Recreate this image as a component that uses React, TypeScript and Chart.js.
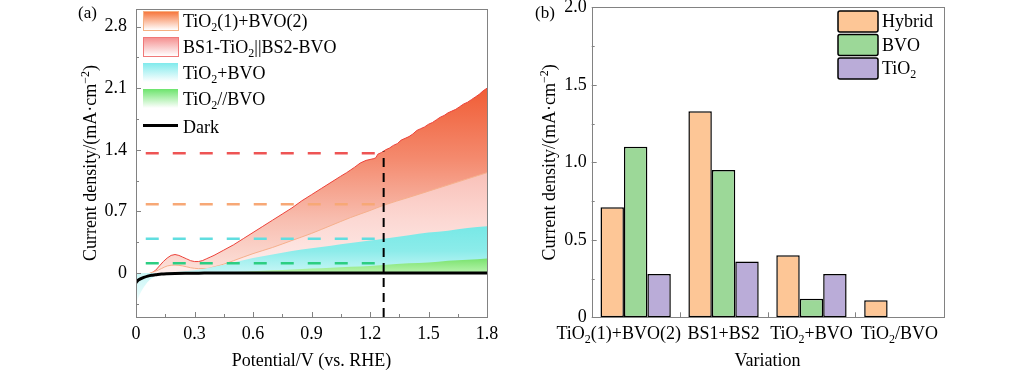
import React, { useEffect, useRef } from 'react';
import Chart from 'chart.js/auto';

const FONT = '"Liberation Serif", "Times New Roman", serif';

// ---------- Panel (a) data ----------
const potentialTicks = [0, 0.3, 0.6, 0.9, 1.2, 1.5, 1.8];
const potentialTickLabels = ['0', '0.3', '0.6', '0.9', '1.2', '1.5', '1.8'];
const potentialMinorTicks = [0.15, 0.45, 0.75, 1.05, 1.35, 1.65];
const currentTicksA = [0, 0.7, 1.4, 2.1, 2.8];
const currentTickLabelsA = ['0', '0.7', '1.4', '2.1', '2.8'];
const currentMinorTicksA = [-0.35, 0.35, 1.05, 1.75, 2.45];

// BS1-TiO2||BS2-BVO (red)
const bsX = [0.08, 0.10, 0.12, 0.14, 0.16, 0.18, 0.20, 0.22, 0.24, 0.26, 0.28, 0.30, 0.32, 0.34, 0.36, 0.38, 0.40,
  0.45, 0.50, 0.55, 0.60, 0.65, 0.70, 0.75, 0.80, 0.85, 0.90, 0.95, 1.00, 1.05,
  1.08, 1.10, 1.12, 1.15, 1.18, 1.20, 1.22, 1.23, 1.24,
  1.26, 1.28, 1.30, 1.32, 1.34, 1.36, 1.38, 1.40, 1.42, 1.44, 1.46, 1.48, 1.50, 1.52, 1.54, 1.56, 1.58, 1.60, 1.62, 1.64, 1.66, 1.68, 1.70, 1.72, 1.74, 1.76, 1.78, 1.80];
const bsY = [0.00, 0.03, 0.08, 0.13, 0.17, 0.20, 0.21, 0.20, 0.18, 0.16, 0.14, 0.13, 0.13, 0.14, 0.16, 0.18, 0.20,
  0.26, 0.32, 0.39, 0.46, 0.53, 0.60, 0.67, 0.74, 0.82, 0.89, 0.96, 1.03, 1.10,
  1.14, 1.17, 1.20, 1.25, 1.28, 1.29, 1.30, 1.31, 1.35,
  1.37, 1.40, 1.42, 1.45, 1.47, 1.51, 1.53, 1.55, 1.58, 1.62, 1.64, 1.66, 1.69, 1.71, 1.74, 1.77, 1.79, 1.82, 1.84, 1.86, 1.89, 1.92, 1.94, 1.97, 2.00, 2.03, 2.07, 2.10];

// TiO2(1)+BVO(2) (orange)
const hybX = [0.07, 0.10, 0.13, 0.16, 0.20, 0.24, 0.28, 0.32, 0.36, 0.40, 0.45, 0.50, 0.60, 0.70, 0.80, 0.90, 1.00, 1.10, 1.20, 1.27, 1.40, 1.50, 1.60, 1.70, 1.80];
const hybY = [0.00, 0.02, 0.05, 0.08, 0.09, 0.08, 0.06, 0.05, 0.05, 0.07, 0.10, 0.14, 0.22, 0.29, 0.37, 0.45, 0.54, 0.63, 0.71, 0.77, 0.86, 0.93, 1.00, 1.07, 1.14];

// TiO2+BVO (cyan)
const sumX = [0, 0.02, 0.05, 0.08, 0.10, 0.15, 0.20, 0.30, 0.40, 0.50, 0.60, 0.70, 0.80, 0.90, 1.00, 1.10, 1.20, 1.27, 1.40, 1.50, 1.60, 1.70, 1.80];
const sumY = [-0.35, -0.24, -0.13, -0.06, -0.03, 0.00, 0.01, 0.03, 0.07, 0.12, 0.17, 0.21, 0.25, 0.28, 0.31, 0.34, 0.37, 0.39, 0.43, 0.46, 0.48, 0.51, 0.53];

// TiO2//BVO (green)
const parX = [0.30, 0.40, 0.50, 0.60, 0.70, 0.80, 0.90, 1.00, 1.10, 1.20, 1.27, 1.40, 1.50, 1.60, 1.70, 1.80];
const parY = [0.00, 0.005, 0.01, 0.02, 0.03, 0.04, 0.05, 0.06, 0.07, 0.08, 0.09, 0.11, 0.12, 0.14, 0.15, 0.165];

// Dark
const darkX = [0, 0.01, 0.02, 0.04, 0.06, 0.08, 0.10, 0.13, 0.16, 0.20, 0.30, 0.35, 1.80];
const darkY = [-0.11, -0.085, -0.07, -0.05, -0.035, -0.025, -0.02, -0.012, -0.008, -0.005, -0.003, 0, 0];

const refLevels = [1.36, 0.78, 0.39, 0.11];
const refStart = 0.05;
const refEnd = 1.27;
const markerPotential = 1.27;

const legendA = ['TiO_{2}(1)+BVO(2)', 'BS1-TiO_{2}||BS2-BVO', 'TiO_{2}+BVO', 'TiO_{2}//BVO', 'Dark'];
const xTitleA = 'Potential/V (vs. RHE)';
const yTitle = 'Current density/(mA·cm^{−2})';

// ---------- Panel (b) data ----------
const categories = ['TiO_{2}(1)+BVO(2)', 'BS1+BS2', 'TiO_{2}+BVO', 'TiO_{2}/BVO'];
const hybridValues = [0.71, 1.33, 0.40, 0.11];
const bvoValues = [1.10, 0.95, 0.12, null];
const tio2Values = [0.28, 0.36, 0.28, null];
const seriesB = ['Hybrid', 'BVO', 'TiO_{2}'];
const currentTicksB = [0, 0.5, 1, 1.5, 2];
const currentTickLabelsB = ['0', '0.5', '1.0', '1.5', '2.0'];
const currentMinorTicksB = [0.25, 0.75, 1.25, 1.75];
const xTitleB = 'Variation';

// ---------- styles ----------
const FRAME = 'rgb(130,130,130)';
const barColors = ['rgb(253,198,150)', 'rgb(156,216,152)', 'rgb(186,172,216)'];
const refColors = ['rgb(238,84,84)', 'rgb(247,168,118)', 'rgb(96,222,224)', 'rgb(44,206,130)'];
const catLabelShift = [-17, 0, 0, 0];

type Seg = { t: string; k: number };
function parseRich(s: string): Seg[] {
  const out: Seg[] = [];
  let i = 0;
  let buf = '';
  while (i < s.length) {
    if ((s[i] === '_' || s[i] === '^') && s[i + 1] === '{') {
      if (buf) { out.push({ t: buf, k: 0 }); buf = ''; }
      const end = s.indexOf('}', i);
      out.push({ t: s.slice(i + 2, end), k: s[i] === '_' ? 1 : 2 });
      i = end + 1;
    } else {
      buf += s[i];
      i++;
    }
  }
  if (buf) out.push({ t: buf, k: 0 });
  return out;
}

function drawRich(ctx: CanvasRenderingContext2D, s: string, x: number, y: number, size: number, align: string) {
  const segs = parseRich(s);
  const small = Math.round(size * 0.64);
  let w = 0;
  for (const sg of segs) {
    ctx.font = `${sg.k ? small : size}px ${FONT}`;
    w += ctx.measureText(sg.t).width;
  }
  let cx = align === 'center' ? x - w / 2 : align === 'right' ? x - w : x;
  ctx.textAlign = 'left';
  ctx.textBaseline = 'alphabetic';
  const base = y + size * 0.33;
  for (const sg of segs) {
    ctx.font = `${sg.k ? small : size}px ${FONT}`;
    const dy = sg.k === 1 ? size * 0.22 : sg.k === 2 ? -size * 0.38 : 0;
    ctx.fillText(sg.t, cx, base + dy);
    cx += ctx.measureText(sg.t).width;
  }
}

function vGrad(stops: [number, string][]) {
  return (c: any) => {
    const chart = c.chart;
    const ys = chart.scales && chart.scales.y;
    if (!chart.chartArea || !ys) return stops[0][1];
    const y0 = ys.getPixelForValue(stops[0][0]);
    const y1 = ys.getPixelForValue(stops[stops.length - 1][0]);
    const g = chart.ctx.createLinearGradient(0, y0, 0, y1);
    for (const [v, col] of stops) {
      const f = (ys.getPixelForValue(v) - y0) / (y1 - y0);
      g.addColorStop(Math.min(1, Math.max(0, f)), col);
    }
    return g;
  };
}

const pts = (xs: number[], ys: number[]) => xs.map((x, i) => ({ x, y: ys[i] }));

function fixY(width: number) {
  return (s: any) => { s.width = width; s.paddingTop = 0; s.paddingBottom = 0; };
}
function fixX(height: number) {
  return (s: any) => { s.height = height; s.paddingLeft = 0; s.paddingRight = 0; };
}

const panelAPlugin = {
  id: 'panelA',
  afterDraw(chart: any) {
    const ctx: CanvasRenderingContext2D = chart.ctx;
    const { left, right, top, bottom } = chart.chartArea;
    const xs = chart.scales.x;
    const ys = chart.scales.y;
    ctx.save();
    ctx.strokeStyle = FRAME;
    ctx.lineWidth = 1;
    ctx.strokeRect(Math.round(left) + 0.5, Math.round(top) + 0.5, Math.round(right - left), Math.round(bottom - top));
    ctx.beginPath();
    for (const v of currentTicksA) { const p = Math.round(ys.getPixelForValue(v)) + 0.5; ctx.moveTo(left, p); ctx.lineTo(left + 5, p); }
    for (const v of currentMinorTicksA) { const p = Math.round(ys.getPixelForValue(v)) + 0.5; ctx.moveTo(left, p); ctx.lineTo(left + 3, p); }
    for (const v of potentialTicks) { const p = Math.round(xs.getPixelForValue(v)) + 0.5; ctx.moveTo(p, bottom); ctx.lineTo(p, bottom - 5); }
    for (const v of potentialMinorTicks) { const p = Math.round(xs.getPixelForValue(v)) + 0.5; ctx.moveTo(p, bottom); ctx.lineTo(p, bottom - 3); }
    ctx.stroke();
    ctx.fillStyle = '#000';
    drawRich(ctx, xTitleA, (left + right) / 2, 360, 18, 'center');
    ctx.save();
    ctx.translate(90, (top + bottom) / 2);
    ctx.rotate(-Math.PI / 2);
    drawRich(ctx, yTitle, 0, 0, 18, 'center');
    ctx.restore();
    drawRich(ctx, '(a)', 78, 12, 17, 'left');
    const sw = [
      { top: 'rgb(246,112,52)', border: 'rgb(246,176,130)' },
      { top: 'rgb(244,140,140)', border: 'rgb(240,120,120)' },
      { top: 'rgb(128,234,236)', border: null },
      { top: 'rgb(108,228,108)', border: null },
    ];
    const lx = 143;
    const lw = 35;
    for (let i = 0; i < 4; i++) {
      const y0 = 11 + i * 26;
      const h = 19;
      const g = ctx.createLinearGradient(0, y0, 0, y0 + h);
      g.addColorStop(0, sw[i].top);
      g.addColorStop(1, 'rgba(255,255,255,1)');
      ctx.fillStyle = g;
      ctx.fillRect(lx, y0, lw, h);
      if (sw[i].border) {
        ctx.strokeStyle = sw[i].border as string;
        ctx.lineWidth = 1;
        ctx.strokeRect(lx + 0.5, y0 + 0.5, lw, h);
      }
      ctx.fillStyle = '#000';
      drawRich(ctx, legendA[i], 183, y0 + 10.5, 18, 'left');
    }
    ctx.strokeStyle = '#000';
    ctx.lineWidth = 3;
    ctx.beginPath();
    ctx.moveTo(lx, 125.5);
    ctx.lineTo(lx + lw, 125.5);
    ctx.stroke();
    ctx.fillStyle = '#000';
    drawRich(ctx, legendA[4], 183, 127, 18, 'left');
    ctx.restore();
  },
};

const panelBPlugin = {
  id: 'panelB',
  afterDraw(chart: any) {
    const ctx: CanvasRenderingContext2D = chart.ctx;
    const { left, right, top, bottom } = chart.chartArea;
    const xs = chart.scales.x;
    const ys = chart.scales.y;
    ctx.save();
    ctx.strokeStyle = FRAME;
    ctx.lineWidth = 1;
    ctx.strokeRect(Math.round(left) + 0.5, Math.round(top) + 0.5, Math.round(right - left), Math.round(bottom - top));
    ctx.beginPath();
    for (const v of currentTicksB) { const p = Math.round(ys.getPixelForValue(v)) + 0.5; ctx.moveTo(left, p); ctx.lineTo(left + 5, p); }
    for (const v of currentMinorTicksB) { const p = Math.round(ys.getPixelForValue(v)) + 0.5; ctx.moveTo(left, p); ctx.lineTo(left + 3, p); }
    for (let i = 1; i < categories.length; i++) {
      const p = Math.round((xs.getPixelForValue(i - 1) + xs.getPixelForValue(i)) / 2) + 0.5;
      ctx.moveTo(p, bottom); ctx.lineTo(p, bottom - 5);
    }
    ctx.stroke();
    ctx.fillStyle = '#000';
    categories.forEach((c, i) => drawRich(ctx, c, xs.getPixelForValue(i) + catLabelShift[i], 333, 18, 'center'));
    drawRich(ctx, xTitleB, (left + right) / 2, 360, 18, 'center');
    ctx.save();
    ctx.translate(37, (top + bottom) / 2);
    ctx.rotate(-Math.PI / 2);
    drawRich(ctx, yTitle, 0, 0, 18, 'center');
    ctx.restore();
    drawRich(ctx, '(b)', 23, 12, 17, 'left');
    for (let i = 0; i < 3; i++) {
      const y0 = 11 + i * 23.5;
      ctx.fillStyle = barColors[i];
      ctx.strokeStyle = '#000';
      ctx.lineWidth = 1.5;
      ctx.beginPath();
      (ctx as any).roundRect(326, y0, 40, 21, 2);
      ctx.fill();
      ctx.stroke();
      ctx.fillStyle = '#000';
      drawRich(ctx, seriesB[i], 370, y0 + 10.5, 18, 'left');
    }
    ctx.restore();
  },
};

export default function App() {
  const aRef = useRef<HTMLCanvasElement>(null);
  const bRef = useRef<HTMLCanvasElement>(null);

  useEffect(() => {
    const common = {
      responsive: false,
      animation: false as const,
      devicePixelRatio: 1,
      plugins: { legend: { display: false }, tooltip: { enabled: false } },
      elements: { point: { radius: 0 } },
    };
    const tickFont = { family: FONT, size: 18 };
    const noGrid = { display: false, drawTicks: false };

    const refDatasets = refLevels.map((v, i) => ({
      data: [{ x: refStart, y: v }, { x: refEnd, y: v }],
      borderColor: refColors[i],
      borderWidth: 2.5,
      borderDash: [13, 14],
      fill: false,
      order: 1,
      pointRadius: 0,
    }));

    const ca = new Chart(aRef.current as HTMLCanvasElement, {
      type: 'line',
      data: {
        datasets: [
          {
            data: pts(bsX, bsY), borderColor: 'rgb(236,66,58)', borderWidth: 1, fill: 'origin', order: 6, pointRadius: 0,
            backgroundColor: vGrad([[2.15, 'rgb(240,90,50)'], [1.3, 'rgb(244,138,110)'], [0.6, 'rgb(248,190,176)'], [0, 'rgb(252,226,220)']]),
          },
          {
            data: pts(hybX, hybY), borderColor: 'rgb(246,176,140)', borderWidth: 1, fill: 'origin', order: 5, pointRadius: 0,
            cubicInterpolationMode: 'monotone',
            backgroundColor: vGrad([[1.15, 'rgb(249,192,184)'], [0.6, 'rgb(252,216,211)'], [0, 'rgb(254,238,236)']]),
          },
          {
            data: pts(sumX, sumY), borderWidth: 0, borderColor: 'rgba(0,0,0,0)', fill: 'origin', order: 4, pointRadius: 0,
            cubicInterpolationMode: 'monotone',
            backgroundColor: vGrad([[0.55, 'rgb(118,232,230)'], [0.25, 'rgb(140,236,234)'], [0, 'rgb(200,246,246)'], [-0.4, 'rgb(250,255,255)']]),
          },
          {
            data: pts(parX, parY), borderWidth: 0, borderColor: 'rgba(0,0,0,0)', fill: 'origin', order: 3, pointRadius: 0,
            cubicInterpolationMode: 'monotone',
            backgroundColor: vGrad([[0.17, 'rgb(120,226,108)'], [0, 'rgb(185,244,175)']]),
          },
          ...refDatasets,
          {
            data: [{ x: markerPotential, y: -0.5 }, { x: markerPotential, y: refLevels[0] + 0.02 }],
            borderColor: '#000', borderWidth: 2, borderDash: [9, 6], fill: false, order: 1, pointRadius: 0,
          },
          {
            data: pts(darkX, darkY), borderColor: '#000', borderWidth: 3, fill: false, order: 0, pointRadius: 0,
            cubicInterpolationMode: 'monotone',
          },
        ] as any,
      },
      options: {
        ...common,
        layout: { padding: { left: 0, right: 25, top: 9, bottom: 0 } },
        scales: {
          x: {
            type: 'linear', min: 0, max: 1.8,
            grid: noGrid, border: { display: false },
            afterBuildTicks: (s: any) => { s.ticks = potentialTicks.map((v) => ({ value: v })); },
            afterFit: fixX(55),
            ticks: { font: tickFont, color: '#000', padding: 6, maxRotation: 0, autoSkip: false, callback: (_v: any, i: number) => potentialTickLabels[i] },
          },
          y: {
            type: 'linear', min: -0.5, max: 3.0,
            grid: noGrid, border: { display: false },
            afterBuildTicks: (s: any) => { s.ticks = currentTicksA.map((v) => ({ value: v })); },
            afterFit: fixY(136),
            ticks: { font: tickFont, color: '#000', padding: 9, autoSkip: false, callback: (_v: any, i: number) => currentTickLabelsA[i] },
          },
        },
      } as any,
      plugins: [panelAPlugin],
    });

    const cb = new Chart(bRef.current as HTMLCanvasElement, {
      type: 'bar',
      data: {
        labels: categories,
        datasets: [
          { data: hybridValues, backgroundColor: barColors[0] },
          { data: bvoValues, backgroundColor: barColors[1] },
          { data: tio2Values, backgroundColor: barColors[2] },
        ].map((d) => ({ ...d, borderColor: '#000', borderWidth: 1.5, borderSkipped: false, categoryPercentage: 0.8, barPercentage: 1.0 })) as any,
      },
      options: {
        ...common,
        layout: { padding: { left: 0, right: 80.7, top: 7.3, bottom: 0 } },
        scales: {
          x: {
            grid: noGrid, border: { display: false },
            afterFit: fixX(54.7),
            ticks: { display: false },
          },
          y: {
            type: 'linear', min: 0, max: 2,
            grid: noGrid, border: { display: false },
            afterBuildTicks: (s: any) => { s.ticks = currentTicksB.map((v) => ({ value: v })); },
            afterFit: fixY(79.7),
            ticks: { font: tickFont, color: '#000', padding: 5, autoSkip: false, callback: (_v: any, i: number) => currentTickLabelsB[i] },
          },
        },
      } as any,
      plugins: [panelBPlugin],
    });

    return () => { ca.destroy(); cb.destroy(); };
  }, []);

  return (
    <div style={{ position: 'absolute', left: 0, top: 0, width: 1024, height: 372, background: '#fff' }}>
      <canvas ref={aRef} width={512} height={372} style={{ position: 'absolute', left: 0, top: 0, width: 512, height: 372 }} />
      <canvas ref={bRef} width={512} height={372} style={{ position: 'absolute', left: 512, top: 0, width: 512, height: 372 }} />
    </div>
  );
}
